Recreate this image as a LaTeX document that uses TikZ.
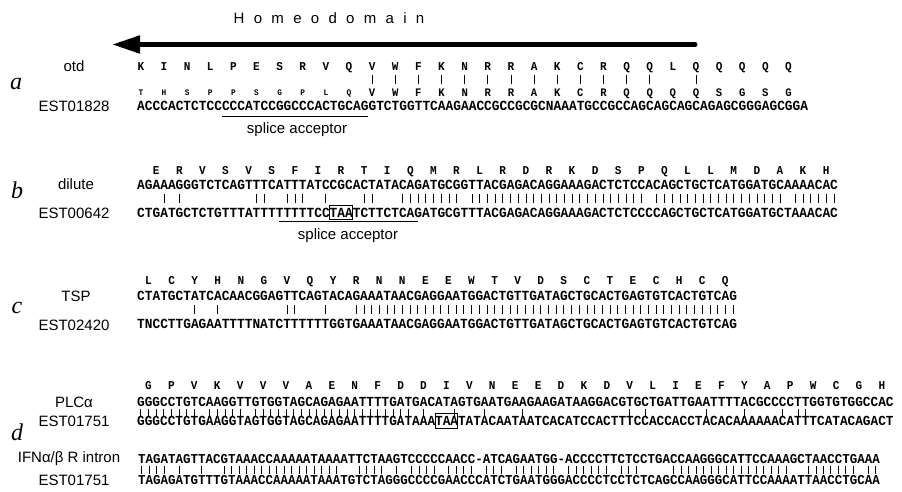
\documentclass[tikz,border=0pt]{standalone}
\usepackage{fontspec}
\setmainfont{Liberation Sans}
\newfontfamily\seqfont{Liberation Mono}[FakeStretch=0.92]
\newfontfamily\panelfont{Liberation Serif}
\usetikzlibrary{arrows.meta}

\ExplSyntaxOn
\cs_new_protected:Npn \matchbars #1#2#3#4#5#6
 {
  \str_set:Nx \l_tmpa_str {#1}
  \str_set:Nx \l_tmpb_str {#2}
  \int_step_inline:nn { \str_count:N \l_tmpa_str }
   {
    \str_if_eq:eeT { \str_item:Nn \l_tmpa_str {##1} } { \str_item:Nn \l_tmpb_str {##1} }
     {
      \draw[matchbar] ( {#3+(##1-0.5)*#4} , #5 ) -- ( {#3+(##1-0.5)*#4} , #6 );
     }
   }
 }
\ExplSyntaxOff

\def\seqAest{ACCCACTCTCCCCCATCCGGCCCACTGCAGGTCTGGTTCAAGAACCGCCGCGCNAAATGCCGCCAGCAGCAGCAGAGCGGGAGCGGA}
\def\seqBtop{AGAAAGGGTCTCAGTTTCATTTATCCGCACTATACAGATGCGGTTACGAGACAGGAAAGACTCTCCACAGCTGCTCATGGATGCAAAACAC}
\def\seqBest{CTGATGCTCTGTTTATTTTTTTTCCTAATCTTCTCAGATGCGTTTACGAGACAGGAAAGACTCTCCCCAGCTGCTCATGGATGCTAAACAC}
\def\seqCtop{CTATGCTATCACAACGGAGTTCAGTACAGAAATAACGAGGAATGGACTGTTGATAGCTGCACTGAGTGTCACTGTCAG}
\def\seqCest{TNCCTTGAGAATTTTNATCTTTTTTGGTGAAATAACGAGGAATGGACTGTTGATAGCTGCACTGAGTGTCACTGTCAG}
\def\seqDtop{GGGCCTGTCAAGGTTGTGGTAGCAGAGAATTTTGATGACATAGTGAATGAAGAAGATAAGGACGTGCTGATTGAATTTTACGCCCCTTGGTGTGGCCAC}
\def\seqDest{GGGCCTGTGAAGGTAGTGGTAGCAGAGAATTTTGATAAATAATATACAATAATCACATCCACTTTCCACCACCTACACAAAAAACATTTCATACAGACT}
\def\seqEtop{TAGATAGTTACGTAAACCAAAAATAAAATTCTAAGTCCCCCAACC-ATCAGAATGG-ACCCCTTCTCCTGACCAAGGGCATTCCAAAGCTAACCTGAAA}
\def\seqEest{TAGAGATGTTTGTAAACCAAAAATAAATGTCTAGGGCCCCGAACCCATCTGAATGGGACCCCTCCTCTCAGCCAAGGGCATTCCAAAATTAACCTGCAA}

\tikzset{
 seqtxt/.style={inner sep=0pt, anchor=base west, font=\seqfont\bfseries\fontsize{#1}{#1}\selectfont},
 aatxt/.style={inner sep=0pt, anchor=base, font=\seqfont\bfseries\fontsize{#1}{#1}\selectfont},
 lab/.style={inner sep=0pt, font=\fontsize{15}{15}\selectfont},
 panel/.style={inner sep=0pt, font=\panelfont\itshape\fontsize{24}{24}\selectfont},
 matchbar/.style={line width=0.7pt},
 uline/.style={line width=1.3pt},
 stopbox/.style={line width=0.8pt},
}

\begin{document}
\begin{tikzpicture}[x=1pt,y=-1pt]
\path[use as bounding box, fill=white] (0,0) rectangle (902,492);

% ---- homeodomain arrow
\node[inner sep=0pt, font=\fontsize{15}{15}\selectfont\addfontfeatures{LetterSpace=62}] (hd) at (329,18) {Homeodomain};
\coordinate (arrR) at (695,44.5);
\coordinate (arrL) at (112,44.5);
\draw[line width=5pt, line cap=round, -{Triangle[length=28pt,width=17pt]}] (arrR) -- (arrL);

% ---- panel a
\node[panel] (pa) at (16,84) {a};
\node[lab] (otd) at (74,66) {otd};
\node[lab] (esta) at (74,106) {EST01828};
\foreach \a [count=\i] in {K,I,N,L,P,E,S,R,V,Q,V,W,F,K,N,R,R,A,K,C,R,Q,Q,L,Q,Q,Q,Q,Q}
  \node[aatxt=12] (aotd\i) at ({137+(3*\i-2.5)*7.71},71) {\a};
\foreach \a [count=\i] in {T,H,S,P,P,S,G,P,L,Q}
  \node[aatxt=8.5] (aesta\i) at ({137+(3*\i-2.5)*7.71},96) {\a};
\foreach \a [count=\i from 11] in {V,W,F,K,N,R,R,A,K,C,R,Q,Q,Q,Q,S,G,S,G}
  \node[aatxt=11.5] (aestb\i) at ({137+(3*\i-2.5)*7.71},96.5) {\a};
\foreach \i in {11,...,23,25}
  \draw[matchbar] ({137+(3*\i-2.5)*7.71},75) -- ({137+(3*\i-2.5)*7.71},84);
\node[seqtxt=13.97] (sa) at (137,110.5) {\seqAest};
\draw[uline] ({137+11*7.71},116.5) -- ({137+30*7.71},116.5);
\node[lab] (spa) at (297,130) {splice acceptor};

% ---- panel b
\node[panel] (pb) at (17,190) {b};
\node[lab] (dil) at (76,184) {dilute};
\node[lab] (estb) at (74,213) {EST00642};
\foreach \a [count=\i] in {E,R,V,S,V,S,F,I,R,T,I,Q,M,R,L,R,D,R,K,D,S,P,Q,L,L,M,D,A,K,H}
  \node[aatxt=12] (bdil\i) at ({137+(3*\i-0.5)*7.70},174) {\a};
\node[seqtxt=13.95] (sbt) at (137,189) {\seqBtop};
\matchbars{\seqBtop}{\seqBest}{137}{7.70}{194}{203}
\node[seqtxt=13.95] (sbe) at (137,217) {\seqBest};
\draw[stopbox] ({137+25*7.70},205) rectangle ({137+28*7.70},219);
\draw[uline] ({137+18.5*7.70},221.5) -- ({137+36.5*7.70},221.5);
\node[lab] (spb) at (348,236) {splice acceptor};

% ---- panel c
\node[panel] (pc) at (17,308) {c};
\node[lab] (tsp) at (76,296) {TSP};
\node[lab] (estc) at (74,325) {EST02420};
\foreach \a [count=\i] in {L,C,Y,H,N,G,V,Q,Y,R,N,N,E,E,W,T,V,D,S,C,T,E,C,H,C,Q}
  \node[aatxt=12] (ctsp\i) at ({137+(3*\i-1.5)*7.69},284) {\a};
\node[seqtxt=13.93] (sct) at (137,300) {\seqCtop};
\matchbars{\seqCtop}{\seqCest}{137}{7.69}{305}{314}
\node[seqtxt=13.93] (sce) at (137,328) {\seqCest};

% ---- panel d
\node[panel] (pd) at (17,432) {d};
\node[lab] (plc) at (74,402) {PLCα};
\node[lab] (estd) at (74,421) {EST01751};
\foreach \a [count=\i] in {G,P,V,K,V,V,V,A,E,N,F,D,D,I,V,N,E,E,D,K,D,V,L,I,E,F,Y,A,P,W,C,G,H}
  \node[aatxt=12] (dplc\i) at ({137+(3*\i-1.5)*7.64},389) {\a};
\node[seqtxt=13.84] (sdt) at (137,406) {\seqDtop};
\matchbars{\seqDtop}{\seqDest}{137}{7.64}{409}{416}
\node[seqtxt=13.84] (sde) at (137,425) {\seqDest};
\draw[stopbox] ({137+39*7.64},413) rectangle ({137+42*7.64},428);

\node[lab] (ifn) at (69,459) {IFNα/β R intron};
\node[lab] (este) at (74,480) {EST01751};
\node[seqtxt=13.57] (set) at (138,463) {\seqEtop};
\matchbars{\seqEtop}{\seqEest}{138}{7.49}{466}{474}
\node[seqtxt=13.57] (see) at (138,484) {\seqEest};
\end{tikzpicture}
\end{document}
